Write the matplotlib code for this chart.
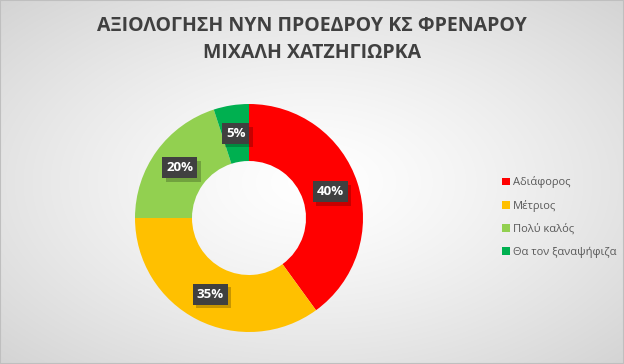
import numpy as np
import matplotlib.pyplot as plt
import matplotlib.patheffects as pe

# --- DATA ---
labels = ['Αδιάφορος', 'Μέτριος', 'Πολύ καλός', 'Θα τον ξαναψήφιζα']
values = [40, 35, 20, 5]
colors = ['#ff0000', '#ffc000', '#92d050', '#00b050']
title = 'ΑΞΙΟΛΟΓΗΣΗ ΝΥΝ ΠΡΟΕΔΡΟΥ ΚΣ ΦΡΕΝΑΡΟΥ\nΜΙΧΑΛΗ ΧΑΤΖΗΓΙΩΡΚΑ'
# ------------

plt.rcParams['font.family'] = ['Open Sans', 'DejaVu Sans']

W, H = 624, 364
fig = plt.figure(figsize=(W / 100, H / 100), dpi=100)

# radial gradient background
bg = fig.add_axes([0, 0, 1, 1])
yy, xx = np.mgrid[0:H, 0:W]
d = np.sqrt(((xx - W / 2) / (W / 2)) ** 2 + ((yy - H / 2) / (H / 2)) ** 2) / np.sqrt(2)
shade = 1.0 - 0.17 * d ** 1.3
bg.imshow(np.dstack([shade] * 3), extent=[0, 1, 0, 1], aspect='auto', zorder=0)
bg.add_patch(plt.Rectangle((0, 0), 1, 1, transform=bg.transAxes, fill=False,
                           edgecolor='#bfbfbf', linewidth=1.5))
bg.set_axis_off()

fig.text(0.5, 1 - 39.5 / H, title, ha='center', va='center', fontsize=14,
         color='#404040', linespacing=1.5, fontweight='bold')

# donut
cx, cy, r = 249, 218, 114
ax = fig.add_axes([(cx - r) / W, (H - cy - r) / H, 2 * r / W, 2 * r / H])
wedges, _ = ax.pie(values, colors=colors, startangle=90, counterclock=False,
                   radius=1, wedgeprops=dict(width=0.5, linewidth=0))
ax.set_xlim(-1, 1)
ax.set_ylim(-1, 1)
ax.set_aspect('equal')

for w, v in zip(wedges, values):
    ang = np.deg2rad((w.theta1 + w.theta2) / 2)
    x, y = 0.75 * np.cos(ang), 0.75 * np.sin(ang)
    t = ax.text(x, y, f'{v}%', ha='center', va='center', fontsize=9.5,
                fontweight='bold', color='white',
                bbox=dict(boxstyle='square,pad=0.3', facecolor='#404040', edgecolor='none'))
    t.get_bbox_patch().set_path_effects([
        pe.SimplePatchShadow(offset=(2.5, -2.5), shadow_rgbFace='black', alpha=0.22),
        pe.Normal()])

leg = fig.legend(wedges, labels, loc='center left', bbox_to_anchor=(492 / W, 1 - 217 / H),
                 frameon=False, fontsize=8, handlelength=0.7, handleheight=0.7,
                 handletextpad=0.25, labelspacing=1.05, labelcolor='#595959')

fig.savefig('out.png', dpi=100)
